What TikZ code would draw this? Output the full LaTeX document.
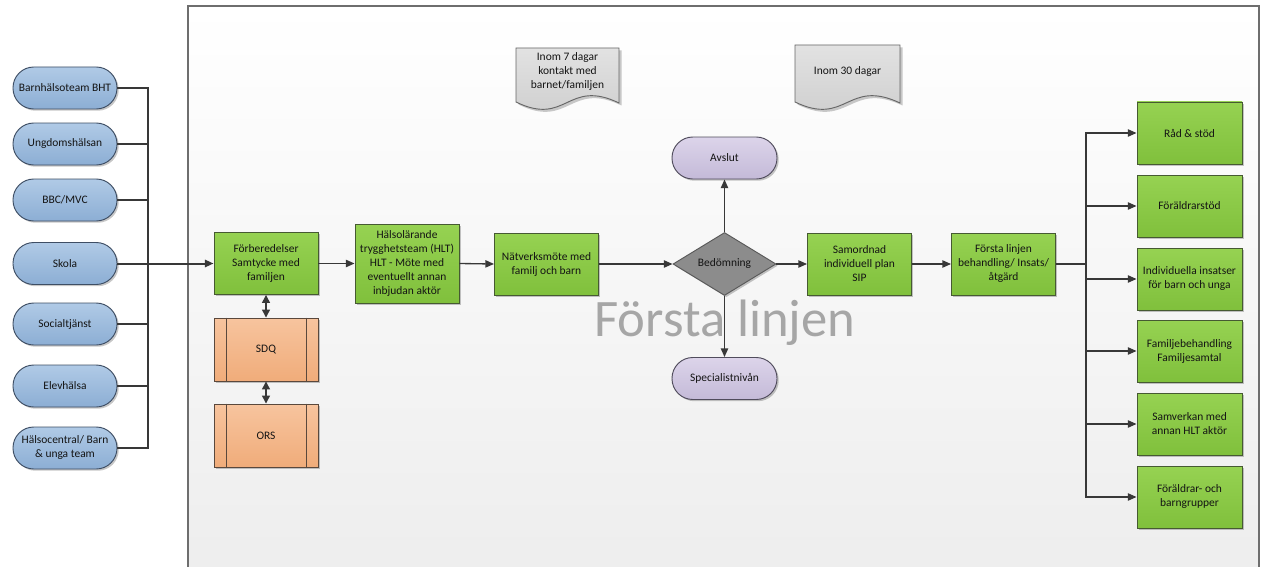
\documentclass[tikz,border=0pt]{standalone}
\usepackage{fontspec}
\setmainfont{Carlito}
\usetikzlibrary{arrows.meta,shapes.geometric,shadows}

\definecolor{bluetop}{RGB}{176,202,230}
\definecolor{bluebot}{RGB}{140,174,212}
\definecolor{blueedge}{RGB}{62,78,100}
\definecolor{greentop}{RGB}{150,210,82}
\definecolor{greenbot}{RGB}{128,192,60}
\definecolor{greenedge}{RGB}{70,90,50}
\definecolor{orangetop}{RGB}{247,196,158}
\definecolor{orangebot}{RGB}{240,172,122}
\definecolor{orangeedge}{RGB}{90,72,60}
\definecolor{purpletop}{RGB}{220,212,234}
\definecolor{purplebot}{RGB}{196,186,216}
\definecolor{purpleedge}{RGB}{80,76,92}
\definecolor{diamondfill}{RGB}{140,140,140}
\definecolor{doctop}{RGB}{226,226,226}
\definecolor{docbot}{RGB}{204,204,204}
\definecolor{wire}{RGB}{56,56,56}
\definecolor{framecol}{RGB}{110,110,110}

\begin{document}
\begin{tikzpicture}[x=0.75pt,y=-0.75pt,
  base/.style={font=\fontsize{8.6}{10.5}\selectfont, text=black!92, align=center,
    inner sep=1pt, line width=0.7pt,
    drop shadow={shadow xshift=1.3pt, shadow yshift=-1.3pt, opacity=0.22, fill=black}},
  srcnode/.style={base, rectangle, rounded corners=15.6pt, minimum width=78pt,
    minimum height=31.5pt, draw=blueedge, top color=bluetop, bottom color=bluebot},
  greenbox/.style={base, rectangle, minimum width=78pt, minimum height=46.5pt,
    draw=greenedge, top color=greentop, bottom color=greenbot},
  orangebox/.style={base, rectangle, minimum width=78pt, minimum height=47.25pt,
    draw=orangeedge, top color=orangetop, bottom color=orangebot},
  endnode/.style={base, rectangle, rounded corners=15.6pt, minimum width=78.75pt,
    minimum height=31.5pt, draw=purpleedge, top color=purpletop, bottom color=purplebot},
  decision/.style={base, diamond, aspect=1.63, inner sep=0pt, minimum width=77.25pt,
    minimum height=47.25pt, draw=black!65, fill=diamondfill},
  doctext/.style={font=\fontsize{8.6}{10.5}\selectfont, text=black!92, align=center},
  docshape/.style={draw=black!60, line width=0.7pt, top color=doctop, bottom color=docbot},
  line/.style={draw=wire, line width=1pt},
  arr/.style={line, -{Triangle[length=6.5pt,width=5.5pt]}},
  dblarr/.style={line, {Triangle[length=6pt,width=6pt]}-{Triangle[length=6pt,width=6pt]}},
  innerbar/.style={draw=orangeedge, line width=0.6pt}
]
\useasboundingbox (0,0) rectangle (1264,567);

% working area
\shade[top color=white, bottom color=black!7] (188,6) rectangle (1259,580);
\draw[framecol, line width=1.2pt] (188,580) -- (188,6) -- (1259,6) -- (1259,580);

% watermark title
\node[font=\fontsize{39.5}{41}\selectfont, text=black!35, anchor=base] (title) at (725,336) {Första linjen};

% time-limit documents
\begin{scope}[shift={(2.5,2.5)}]
  \fill[black!22] (516,48) -- (619,48) -- (619,103) .. controls (567,78) and (567,127) .. (516,102) -- cycle;
  \fill[black!22] (795,45) -- (900,45) -- (900,103) .. controls (847,78) and (847,127) .. (795,102) -- cycle;
\end{scope}
\path[docshape] (516,48) -- (619,48) -- (619,103) .. controls (567,78) and (567,127) .. (516,102) -- cycle;
\path[docshape] (795,45) -- (900,45) -- (900,103) .. controls (847,78) and (847,127) .. (795,102) -- cycle;
\node[doctext] (doc7) at (567.5,71.5) {Inom 7 dagar\\kontakt med\\barnet/familjen};
\node[doctext] (doc30) at (847.5,72) {Inom 30 dagar};

% referring units
\node[srcnode] (bht)   at (65,88)    {Barnhälsoteam BHT};
\node[srcnode] (ungd)  at (65,144)   {Ungdomshälsan};
\node[srcnode] (bbc)   at (65,200)   {BBC/MVC};
\node[srcnode] (skola) at (65,263.5) {Skola};
\node[srcnode] (soc)   at (65,324)   {Socialtjänst};
\node[srcnode] (elev)  at (65,386)   {Elevhälsa};
\node[srcnode] (hc)    at (65,448)   {Hälsocentral/ Barn\\\& unga team};

% main flow
\node[greenbox] (forb) at (266,263.5) {Förberedelser\\Samtycke med\\familjen};
\node[orangebox] (sdq) at (266,349.5) {SDQ};
\node[orangebox] (ors) at (266,435.5) {ORS};
\node[greenbox, minimum height=59.25pt] (hlt) at (407,263.5)
  {Hälsolärande\\trygghetsteam (HLT)\\HLT - Möte med\\eventuellt annan\\inbjudan aktör};
\node[greenbox] (nat) at (546.5,264) {Nätverksmöte med\\familj och barn};
\node[decision] (bed) at (724.5,264) {Bedömning};
\node[endnode] (avslut) at (724.5,158) {Avslut};
\node[endnode] (spec) at (724.5,378.5) {Specialistnivån};
\node[greenbox] (sip) at (859.5,264) {Samordnad\\individuell plan\\SIP};
\node[greenbox] (fl) at (1003.5,264) {Första linjen\\behandling/ Insats/\\åtgärd};

% SDQ / ORS side bars
\foreach \n in {sdq,ors}{
  \draw[innerbar] ([xshift=9.4pt]\n.north west) -- ([xshift=9.4pt]\n.south west);
  \draw[innerbar] ([xshift=-9.4pt]\n.north east) -- ([xshift=-9.4pt]\n.south east);
}

% interventions
\node[greenbox, minimum width=78.75pt] (rad)   at (1189.5,133) {Råd \& stöd};
\node[greenbox, minimum width=78.75pt] (forst) at (1189.5,206) {Föräldrarstöd};
\node[greenbox, minimum width=78.75pt] (indiv) at (1189.5,279) {Individuella insatser\\för barn och unga};
\node[greenbox, minimum width=78.75pt] (fam)   at (1189.5,351) {Familjebehandling\\Familjesamtal};
\node[greenbox, minimum width=78.75pt] (samv)  at (1189.5,424) {Samverkan med\\annan HLT aktör};
\node[greenbox, minimum width=78.75pt] (grupp) at (1189.5,497) {Föräldrar- och\\barngrupper};

% connectors: referrals
\coordinate (busL) at (148,263.5);
\foreach \n in {bht,ungd,bbc,soc,elev,hc}{
  \draw[line] (\n.east) -| (busL);
}
\draw[arr, line width=1.5pt] (skola.east) -- (forb.west);

% connectors: main flow
\draw[dblarr] (forb.south) -- (sdq.north);
\draw[dblarr] (sdq.south) -- (ors.north);
\draw[arr] (forb.east) -- (hlt.west);
\draw[arr] (hlt.east) -- (nat.west);
\draw[arr] (nat.east) -- (bed.west);
\draw[arr] (bed.north) -- (avslut.south);
\draw[arr] (bed.south) -- (spec.north);
\draw[arr] (bed.east) -- (sip.west);
\draw[arr] (sip.east) -- (fl.west);

% connectors: interventions
\coordinate (busR) at (1086,264);
\draw[line, line width=1.6pt] (fl.east) -- (busR);
\foreach \n in {rad,forst,indiv,fam,samv,grupp}{
  \draw[arr] (busR) |- (\n.west);
}
\end{tikzpicture}
\end{document}
